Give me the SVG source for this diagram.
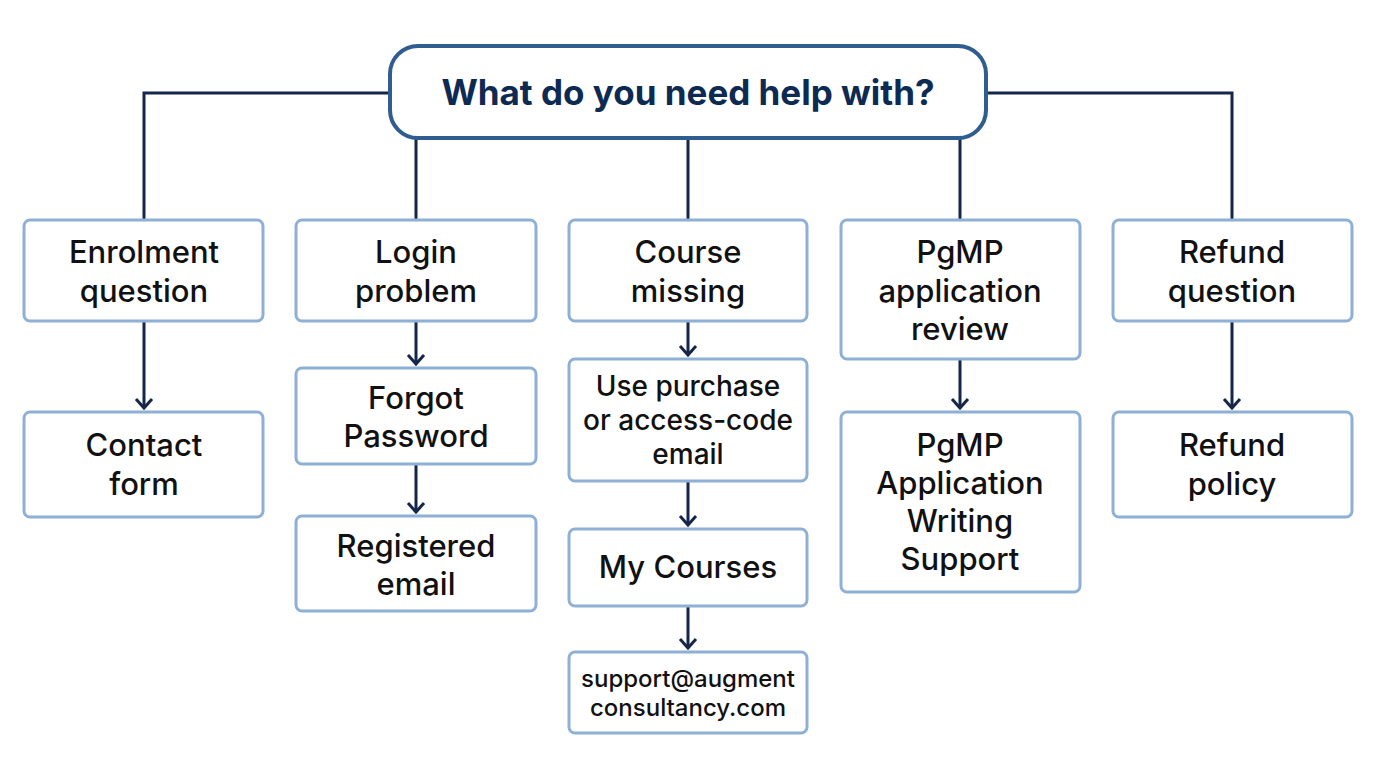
<svg xmlns="http://www.w3.org/2000/svg" width="1376" height="768" viewBox="0 0 1376 768">
<style>
.b{fill:#fff;stroke:#8fb0d6;stroke-width:3}
.t{font-family:Inter,"Liberation Sans",sans-serif;font-weight:500;font-size:31px;fill:#111;text-anchor:middle}
.c{fill:none;stroke:#14264a;stroke-width:3}
</style>
<rect width="1376" height="768" fill="#fff"/>
<g id="connectors" class="c">
<path d="M390 93 H144 V220 M986 93 H1232 V220 M416 138 V220 M688 138 V220 M960 138 V220"/>
<path d="M144 321 V408 M416 321 V364 M416 464 V512 M688 321 V355 M688 481 V525 M688 606 V648 M960 359 V408 M1232 321 V408"/>
<path d="M136 399 L144 408 L152 399 M408 355 L416 364 L424 355 M408 503 L416 512 L424 503 M680 346 L688 355 L696 346 M680 516 L688 525 L696 516 M680 639 L688 648 L696 639 M952 399 L960 408 L968 399 M1224 399 L1232 408 L1240 399"/>
</g>
<g id="top"><rect x="390" y="46" width="596" height="92" rx="28" fill="#fff" stroke="#2f5d8f" stroke-width="4"/>
<text x="688" y="105" class="t" style="font-size:35px;font-weight:700;fill:#0d2a52">What do you need help with?</text></g>
<g id="n1"><rect class="b" x="24" y="220" width="239" height="101" rx="6"/><text class="t" x="144" y="263">Enrolment</text><text class="t" x="144" y="302">question</text></g>
<g id="n2"><rect class="b" x="24" y="412" width="239" height="105" rx="6"/><text class="t" x="144" y="456">Contact</text><text class="t" x="144" y="495">form</text></g>
<g id="n3"><rect class="b" x="296" y="220" width="240" height="101" rx="6"/><text class="t" x="416" y="263">Login</text><text class="t" x="416" y="302">problem</text></g>
<g id="n4"><rect class="b" x="296" y="368" width="240" height="96" rx="6"/><text class="t" x="416" y="409">Forgot</text><text class="t" x="416" y="447">Password</text></g>
<g id="n5"><rect class="b" x="296" y="516" width="240" height="95" rx="6"/><text class="t" x="416" y="557">Registered</text><text class="t" x="416" y="595">email</text></g>
<g id="n6"><rect class="b" x="569" y="220" width="238" height="101" rx="6"/><text class="t" x="688" y="263">Course</text><text class="t" x="688" y="302">missing</text></g>
<g id="n7"><rect class="b" x="569" y="359" width="238" height="122" rx="6"/><text class="t" x="688" y="396" style="font-size:28px">Use purchase</text><text class="t" x="688" y="430" style="font-size:28px">or access-code</text><text class="t" x="688" y="464" style="font-size:28px">email</text></g>
<g id="n8"><rect class="b" x="569" y="529" width="238" height="77" rx="6"/><text class="t" x="688" y="578">My Courses</text></g>
<g id="n9"><rect class="b" x="569" y="652" width="238" height="81" rx="6"/><text class="t" x="688" y="687" style="font-size:24px">support@augment</text><text class="t" x="688" y="716" style="font-size:24px">consultancy.com</text></g>
<g id="n10"><rect class="b" x="841" y="220" width="239" height="139" rx="6"/><text class="t" x="960" y="263">PgMP</text><text class="t" x="960" y="302">application</text><text class="t" x="960" y="340">review</text></g>
<g id="n11"><rect class="b" x="841" y="412" width="239" height="180" rx="6"/><text class="t" x="960" y="456">PgMP</text><text class="t" x="960" y="494">Application</text><text class="t" x="960" y="532">Writing</text><text class="t" x="960" y="570">Support</text></g>
<g id="n12"><rect class="b" x="1113" y="220" width="239" height="101" rx="6"/><text class="t" x="1232" y="263">Refund</text><text class="t" x="1232" y="302">question</text></g>
<g id="n13"><rect class="b" x="1113" y="412" width="239" height="105" rx="6"/><text class="t" x="1232" y="456">Refund</text><text class="t" x="1232" y="495">policy</text></g>
</svg>
